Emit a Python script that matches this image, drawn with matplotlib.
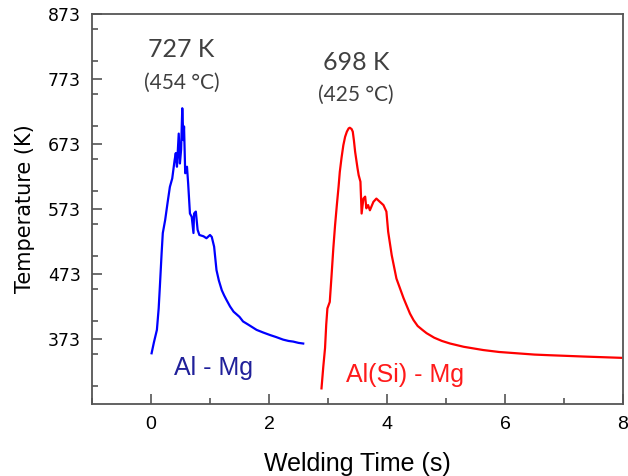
import matplotlib
matplotlib.use("Agg")
import matplotlib.pyplot as plt
from matplotlib.ticker import MultipleLocator

# Al - Mg welding thermal cycle (time s, temperature K)
almg_t = [0.01, 0.05, 0.10, 0.13, 0.15, 0.18, 0.20, 0.24, 0.28, 0.32, 0.36, 0.40, 0.42,
          0.44, 0.47, 0.49, 0.51, 0.53, 0.55, 0.56, 0.58, 0.61, 0.63, 0.66, 0.69, 0.72,
          0.73, 0.76, 0.79, 0.82, 0.89, 0.94, 1.00, 1.03, 1.07, 1.11, 1.15, 1.20, 1.24,
          1.28, 1.34, 1.40, 1.45, 1.50, 1.56, 1.65, 1.79, 1.90, 2.02, 2.12, 2.24, 2.33,
          2.41, 2.50, 2.58]
almg_T = [351, 368, 387, 420, 453, 505, 536, 556, 582, 607, 620, 648, 659,
          638, 689, 643, 664, 728, 679, 700, 628, 638, 612, 566, 561, 536,
          566, 569, 541, 533, 531, 528, 533, 530, 515, 479, 463, 448, 440,
          433, 423, 415, 411, 407, 400, 395, 387, 383, 379, 376, 372, 370,
          369, 367, 366]

# Al(Si) - Mg welding thermal cycle
alsimg_t = [2.89, 2.92, 2.95, 2.97, 2.99, 3.03, 3.06, 3.09, 3.12, 3.15, 3.18, 3.20,
            3.23, 3.26, 3.29, 3.32, 3.35, 3.37, 3.40, 3.42, 3.44, 3.46, 3.50, 3.52,
            3.55, 3.57, 3.60, 3.63, 3.65, 3.68, 3.71, 3.77, 3.82, 3.88, 3.94, 3.99,
            4.02, 4.08, 4.16, 4.22, 4.28, 4.33, 4.39, 4.45, 4.52, 4.60, 4.67, 4.80,
            4.93, 5.07, 5.30, 5.63, 5.90, 6.20, 6.50, 6.76, 7.05, 7.33, 7.65, 7.97]
alsimg_T = [297, 330, 359, 395, 420, 430, 470, 512, 548, 579, 608, 630,
            652, 671, 684, 692, 697, 698, 696, 692, 678, 661, 636, 625,
            615, 566, 589, 592, 574, 579, 571, 584, 589, 584, 579, 569,
            538, 502, 466, 451, 436, 425, 412, 402, 393, 387, 382, 375,
            370, 366, 361, 356, 353, 351, 349, 348, 347, 346, 345, 344]

y_ticks = [373, 473, 573, 673, 773, 873]
x_ticks = [0, 2, 4, 6, 8]

fig = plt.figure(figsize=(6.28, 4.76), dpi=100)
ax = fig.add_axes([0.1465, 0.1513, 0.8455, 0.8193])

ax.plot(almg_t, almg_T, color="#0000ff", lw=1.6)
ax.plot(alsimg_t, alsimg_T, color="#ff0000", lw=1.6)

ax.set_xlim(-1, 8)
ax.set_ylim(273, 873)
ax.set_xticks(x_ticks)
ax.set_yticks(y_ticks)
ax.xaxis.set_minor_locator(MultipleLocator(1))
ax.yaxis.set_minor_locator(MultipleLocator(50))

spine_c = "#555555"
for s in ax.spines.values():
    s.set_color(spine_c)
    s.set_linewidth(1.3)
ax.tick_params(which="both", direction="in", color=spine_c, width=1.2)
ax.tick_params(which="major", length=7)
ax.tick_params(which="minor", length=4)
ax.tick_params(axis="y", which="major", pad=8, labelsize=12.5)
ax.tick_params(axis="x", which="major", pad=9, labelsize=14)
for lab in ax.get_xticklabels():
    lab.set_fontfamily("Liberation Sans")
for lab in ax.get_yticklabels():
    lab.set_fontfamily("DejaVu Sans")

ax.set_xlabel("Welding Time (s)", fontsize=18, family="Liberation Sans", labelpad=13)
ax.set_ylabel("Temperature (K)", fontsize=15, family="DejaVu Sans", labelpad=9)

ann_c = "#404040"
ax.text(0.52, 818, "727 K", ha="center", va="center", fontsize=18, family="Lato", color=ann_c)
ax.text(0.52, 767, "(454 °C)", ha="center", va="center", fontsize=15, family="Lato", color=ann_c)
ax.text(3.48, 799, "698 K", ha="center", va="center", fontsize=18, family="Lato", color=ann_c)
ax.text(3.48, 749, "(425 °C)", ha="center", va="center", fontsize=15, family="Lato", color=ann_c)

ax.text(1.06, 328, "Al - Mg", ha="center", va="center", fontsize=18, family="Liberation Sans", color="#20209a")
ax.text(4.30, 318, "Al(Si) - Mg", ha="center", va="center", fontsize=18, family="Liberation Sans", color="#ff1a1a")

fig.savefig("out.png", dpi=100)
